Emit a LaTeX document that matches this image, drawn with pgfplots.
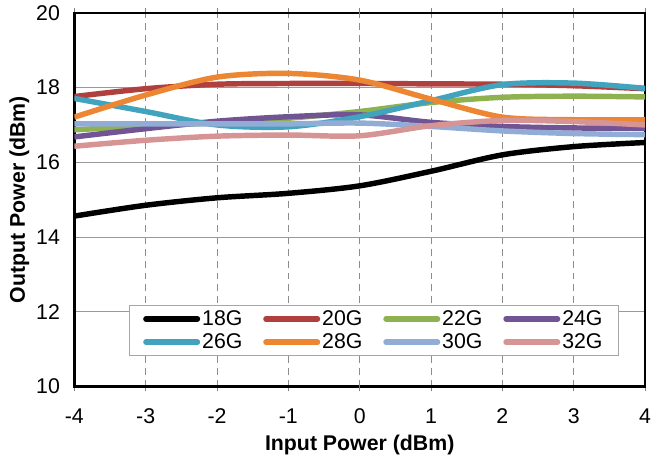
\documentclass[border=0pt]{standalone}
\usepackage{pgfplots}
\pgfplotsset{compat=1.18}
\usepackage{fontspec}
\setmainfont{Liberation Sans}
\definecolor{c18}{RGB}{0,0,0}
\definecolor{c20}{RGB}{176,64,61}
\definecolor{c22}{RGB}{143,178,80}
\definecolor{c24}{RGB}{112,84,148}
\definecolor{c26}{RGB}{65,163,189}
\definecolor{c28}{RGB}{236,134,50}
\definecolor{c30}{RGB}{145,173,214}
\definecolor{c32}{RGB}{215,148,148}
\begin{document}
\begin{tikzpicture}
\begin{axis}[
  name=ax,
  scale only axis,
  width=576pt, height=377pt,
  xmin=-4, xmax=4, ymin=10, ymax=20,
  xtick={-4,-3,...,4}, ytick={10,12,...,20},
  font=\fontsize{21.5}{23}\selectfont,
  /pgf/number format/assume math mode=true,
  axis line style={black, line width=2.5pt},
  xmajorgrids, ymajorgrids,
  x grid style={gray!90, line width=1pt, dash pattern=on 7pt off 5pt},
  y grid style={gray!80, line width=1pt},
  extra x ticks={0}, extra x tick labels={},
  extra x tick style={grid=major, major grid style={gray!80, solid, line width=1pt}},
  tick align=outside,
  xtick style={gray, line width=1pt},
  major tick length=5pt,
  ytick style={draw=none},
  xticklabel style={yshift=-14pt},
  yticklabel style={xshift=-6pt},
  xlabel={\textbf{Input Power (dBm)}},
  ylabel={\textbf{Output Power (dBm)}},
  xlabel style={yshift=6pt},
  ylabel style={yshift=0pt},
  legend columns=4,
  legend cell align=left,
  legend style={at={(rel axis cs:0.0955,0.082)}, anchor=south west,
    draw=gray!70, line width=1pt, fill=white,
    font=\fontsize{21.5}{23}\selectfont,
    inner xsep=14pt, inner ysep=3pt,
    /tikz/every even column/.append style={column sep=19pt},
    row sep=3pt},
  legend image code/.code={\draw[#1, line width=5.5pt, line cap=round] (0pt,0pt) -- (52pt,0pt);},
  every axis plot/.append style={line width=5.5pt, smooth, tension=0.5},
]
\addplot[c18] coordinates {(-4,14.56) (-3,14.85) (-2,15.05) (-1,15.17) (0,15.37) (1,15.76) (2,16.2) (3,16.42) (4,16.53)};
\addplot[c20] coordinates {(-4,17.76) (-3,17.97) (-2,18.09) (-1,18.11) (0,18.11) (1,18.1) (2,18.09) (3,18.05) (4,17.97)};
\addplot[c22] coordinates {(-4,16.87) (-3,16.97) (-2,17.06) (-1,17.18) (0,17.36) (1,17.6) (2,17.74) (3,17.77) (4,17.75)};
\addplot[c24] coordinates {(-4,16.68) (-3,16.9) (-2,17.1) (-1,17.22) (0,17.27) (1,17.07) (2,16.96) (3,16.92) (4,16.91)};
\addplot[c26] coordinates {(-4,17.71) (-3,17.36) (-2,17.0) (-1,16.95) (0,17.22) (1,17.65) (2,18.08) (3,18.12) (4,17.98)};
\addplot[c28] coordinates {(-4,17.21) (-3,17.8) (-2,18.28) (-1,18.38) (0,18.2) (1,17.69) (2,17.21) (3,17.14) (4,17.14)};
\addplot[c30] coordinates {(-4,17.03) (-3,17.03) (-2,17.03) (-1,17.03) (0,17.05) (1,16.96) (2,16.84) (3,16.77) (4,16.74)};
\addplot[c32] coordinates {(-4,16.43) (-3,16.59) (-2,16.7) (-1,16.73) (0,16.71) (1,16.98) (2,17.12) (3,17.09) (4,17.0)};
\legend{18G,20G,22G,24G,26G,28G,30G,32G}
\end{axis}
\pgfresetboundingbox
\path ([xshift=-75pt,yshift=-69pt]ax.south west) rectangle ([xshift=10pt,yshift=13pt]ax.north east);
\end{tikzpicture}
\end{document}
